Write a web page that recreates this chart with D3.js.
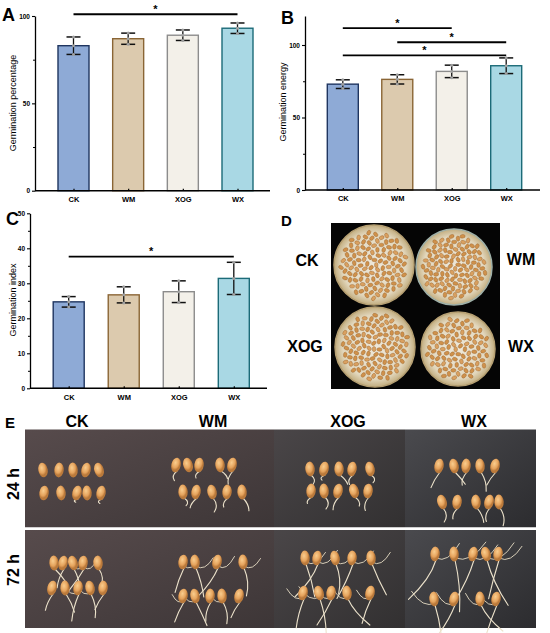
<!DOCTYPE html>
<html><head><meta charset="utf-8">
<script src="https://cdn.jsdelivr.net/npm/d3@7"></script>
<style>body{margin:0;background:#fff}svg{display:block;font-family:Arial,"Liberation Sans",sans-serif}</style>
</head><body><svg id="c" width="550" height="633"></svg>
<script>
// ---------- data ----------
const categories = ["CK", "WM", "XOG", "WX"];
const percentMean = [83, 87, 89, 93];
const percentErr = [5, 3.2, 3, 3];
const energyMean = [73, 76.3, 81.8, 85.7];
const energyErr = [3, 3.2, 4.3, 5.4];
const indexMean = [24.7, 26.7, 27.6, 31.4];
const indexErr = [1.5, 2.3, 3.1, 4.6];
const percentTicks = [0, 50, 100];
const percentMinor = [25, 75];
const energyTicks = [0, 50, 100];
const energyMinor = [25, 75];
const indexTicks = [0, 10, 20, 30, 40, 50];
const indexMinor = [5, 15, 25, 35, 45];
const sigPercent = [["CK", "WX", 101]];
const sigEnergy = [["CK", "XOG", 111.7], ["WM", "WX", 101.9], ["CK", "WX", 92.9]];
const sigIndex = [["CK", "WX", 37.6]];
const barFill = ["#8eaad6", "#dccaae", "#f3f0e9", "#a9d8e4"];
const barStroke = ["#1f3560", "#8a6535", "#8c8c8c", "#1c6b78"];
const timeLabels = ["24 h", "72 h"];
// seedling photo (panel E) seed positions, hand read
const photoSeeds = [
  {c:"CK", t:0, rows:[{y:470,x:[43,59,73,86,99]},{y:493,x:[44,61,77,87,101]}], root:[0,0,0,0,0,0,0,4,0,5]},
  {c:"WM", t:0, rows:[{y:465,x:[176,188,199,220,232]},{y:492,x:[183,196,212,227,242]}], root:[10,0,8,10,14,8,12,14,10,14]},
  {c:"XOG",t:0, rows:[{y:469,x:[310,324,339,352,370]},{y:491,x:[311,324,338,354,368]}], root:[10,6,12,10,8,8,12,14,10,14]},
  {c:"WX", t:0, rows:[{y:466,x:[439,454,466,480,495]},{y:502,x:[442,457,476,489,499]}], root:[18,16,14,20,16,14,12,16,14,18]},
  {c:"CK", t:1, rows:[{y:563,x:[54,63,73,83,98]},{y:588,x:[52,65,78,90,103]}], root:[16,20,22,26,18,18,20,28,24,18]},
  {c:"WM", t:1, rows:[{y:562,x:[183,195,217,243]},{y:596,x:[183,195,210,222,239]}], root:[26,30,34,28,22,26,20,22,18]},
  {c:"XOG",t:1, rows:[{y:558,x:[305,317,335,352,371]},{y:593,x:[303,319,331,347,370]}], root:[34,40,30,38,34,30,36,30,34,26]},
  {c:"WX", t:1, rows:[{y:554,x:[435,454,473,486,498]},{y:599,x:[434,454,480,496]}], root:[48,52,44,50,40,40,36,34,30]}
];
const rootAngles = [-25, 15, -10, 30, -40, 20, -15, 35, -5, 25];

// ---------- helpers ----------
const svg = d3.select("#c");
const FONT = "Arial, 'Liberation Sans', sans-serif";
const defs = svg.append("defs");

function barPanel(o) {
  const g = svg.append("g");
  const y = d3.scaleLinear().domain([0, o.max]).range([o.y0, o.yTop]);
  const x = d3.scalePoint().domain(categories).range(o.xr);
  const bw = 31, cw = 14;
  g.selectAll("rect.bar").data(categories).join("rect")
    .attr("x", d => x(d) - bw / 2).attr("width", bw)
    .attr("y", (d, i) => y(o.means[i])).attr("height", (d, i) => o.y0 - y(o.means[i]))
    .attr("fill", (d, i) => barFill[i]).attr("stroke", (d, i) => barStroke[i]).attr("stroke-width", 1.4);
  const eb = g.selectAll("g.eb").data(categories).join("g");
  eb.append("line").attr("x1", d => x(d)).attr("x2", d => x(d))
    .attr("y1", (d, i) => y(o.means[i] - o.errs[i])).attr("y2", (d, i) => y(o.means[i] + o.errs[i]))
    .attr("stroke", "#111").attr("stroke-width", 1.3);
  [-1, 1].forEach(s => {
    eb.append("line").attr("x1", d => x(d) - cw / 2).attr("x2", d => x(d) + cw / 2)
      .attr("y1", (d, i) => y(o.means[i] + s * o.errs[i])).attr("y2", (d, i) => y(o.means[i] + s * o.errs[i]))
      .attr("stroke", "#111").attr("stroke-width", 1.5);
  });
  [-1, 0, 1].forEach(s => {
    eb.append("circle").attr("cx", d => x(d)).attr("cy", (d, i) => y(o.means[i] + s * o.errs[i]))
      .attr("r", 1.5).attr("fill", "#a0a0a0");
  });
  const ya = g.append("g").attr("transform", `translate(${o.ax},0)`)
    .call(d3.axisLeft(y).tickValues(o.ticks).tickSize(3).tickSizeOuter(0).tickPadding(2));
  ya.attr("font-size", 6.5).attr("font-family", FONT).attr("font-weight", "bold");
  ya.select(".domain").attr("stroke-width", 1.3);
  ya.selectAll(".tick line").attr("stroke-width", 1.1);
  const ym = g.append("g").attr("transform", `translate(${o.ax},0)`)
    .call(d3.axisLeft(y).tickValues(o.minor).tickSize(2).tickFormat(""));
  ym.select(".domain").remove();
  g.append("line").attr("x1", o.ax).attr("x2", o.ar).attr("y1", o.y0).attr("y2", o.y0)
    .attr("stroke", "#000").attr("stroke-width", 1.6);
  const xa = g.append("g").attr("transform", `translate(0,${o.y0})`)
    .call(d3.axisBottom(x).tickSize(-2).tickPadding(6));
  xa.attr("font-size", 7.5).attr("font-family", FONT).attr("font-weight", "bold");
  xa.select(".domain").remove();
  xa.selectAll(".tick line").attr("stroke-width", 1.2);
  o.sig.forEach(s => {
    g.append("line").attr("x1", x(s[0])).attr("x2", x(s[1])).attr("y1", y(s[2])).attr("y2", y(s[2]))
      .attr("stroke", "#000").attr("stroke-width", 1.8);
    g.append("text").attr("x", (x(s[0]) + x(s[1])) / 2).attr("y", y(s[2]) - 1.5)
      .attr("text-anchor", "middle").attr("font-size", 11).attr("font-weight", "bold")
      .attr("font-family", FONT).text("*");
  });
  g.append("text").attr("transform", `translate(${o.tx},${o.ty}) rotate(-90)`)
    .attr("text-anchor", "middle").attr("font-size", 9).attr("font-family", FONT).text(o.title);
  g.append("text").attr("x", o.lx).attr("y", o.ly).attr("font-size", 18).attr("font-weight", "bold")
    .attr("font-family", FONT).text(o.letter);
}

barPanel({max:100, y0:190.7, yTop:16, xr:[73.5,237.5], ax:35, ar:270, means:percentMean, errs:percentErr,
  ticks:percentTicks, minor:percentMinor, sig:sigPercent, title:"Germination percentage", tx:16, ty:103,
  letter:"A", lx:2, ly:21});
barPanel({max:120, y0:190, yTop:16, xr:[342.8,506.2], ax:305, ar:540, means:energyMean, errs:energyErr,
  ticks:energyTicks, minor:energyMinor, sig:sigEnergy, title:"Germination energy", tx:286, ty:102,
  letter:"B", lx:281, ly:24});
barPanel({max:50, y0:388.3, yTop:213.3, xr:[68.7,233.8], ax:30, ar:267, means:indexMean, errs:indexErr,
  ticks:indexTicks, minor:indexMinor, sig:sigIndex, title:"Germination index", tx:16, ty:300,
  letter:"C", lx:6, ly:225});

// ---------- panel D: petri dishes ----------
const big = (sel, x, y, t, anchor, size) => sel.append("text").attr("x", x).attr("y", y)
  .attr("text-anchor", anchor || "middle").attr("font-size", size || 16).attr("font-weight", "bold")
  .attr("font-family", FONT).text(t);
big(svg, 281, 226, "D", "start", 15);
svg.append("rect").attr("x", 331).attr("y", 223).attr("width", 169).attr("height", 166).attr("fill", "#050505");
const dishGrad = defs.append("radialGradient").attr("id", "dish");
dishGrad.append("stop").attr("offset", "0%").attr("stop-color", "#eee8da");
dishGrad.append("stop").attr("offset", "80%").attr("stop-color", "#e2d7bd");
dishGrad.append("stop").attr("offset", "100%").attr("stop-color", "#c2ad7f");
const dishes = [
  {c:"CK", cx:374, cy:265, r:40, lx:307, ly:266},
  {c:"WM", cx:454, cy:267, r:38, lx:521, ly:265},
  {c:"XOG", cx:375, cy:347, r:40, lx:305, ly:352},
  {c:"WX", cx:458, cy:349, r:37, lx:521, ly:352}
];
dishes.forEach((d, k) => {
  svg.append("circle").attr("cx", d.cx).attr("cy", d.cy).attr("r", d.r).attr("fill", "url(#dish)")
    .attr("stroke", k === 1 ? "#9fb0a8" : "#b59f72").attr("stroke-width", 1.5);
  const n = k === 3 ? 90 : 110;
  const sg = svg.append("g");
  d3.range(n).forEach(i => {
    const rr = d.r * 0.84 * Math.sqrt((i + 0.5) / n);
    const th = i * 2.39996 + k;
    const sx = d.cx + rr * Math.cos(th), sy = d.cy + rr * Math.sin(th);
    sg.append("ellipse").attr("cx", sx).attr("cy", sy).attr("rx", 1.8).attr("ry", 2.6)
      .attr("transform", `rotate(${(i * 47) % 180},${sx},${sy})`)
      .attr("fill", i % 3 ? "#cf914b" : "#d9a060").attr("stroke", "#97622c").attr("stroke-width", 0.4);
  });
  big(svg, d.lx, d.ly, d.c, "middle", 16);
});

// ---------- panel E: seedling photos ----------
big(svg, 5, 428, "E", "start", 15);
[["CK", 77], ["WM", 213], ["XOG", 348], ["WX", 474]].forEach(h => big(svg, h[1], 427, h[0], "middle", 16));
timeLabels.forEach((t, i) => {
  svg.append("text").attr("transform", `translate(19,${i ? 570 : 484}) rotate(-90)`)
    .attr("text-anchor", "middle").attr("font-size", 16).attr("font-weight", "bold").attr("font-family", FONT).text(t);
});
const photoCols = [
  {x0:25, x1:274, c1:"#574b4c", c2:"#3d3637"},
  {x0:274, x1:405, c1:"#4a4648", c2:"#323031"},
  {x0:405, x1:536, c1:"#4a4a4e", c2:"#2c2c2f"}
];
const rowsY = [[429.5, 527.5], [530, 628]];
photoCols.forEach((p, i) => {
  const gr = defs.append("linearGradient").attr("id", "pg" + i).attr("x1", 0).attr("y1", 0).attr("x2", 1).attr("y2", 1);
  gr.append("stop").attr("offset", "0%").attr("stop-color", p.c1);
  gr.append("stop").attr("offset", "100%").attr("stop-color", p.c2);
  rowsY.forEach(r => svg.append("rect").attr("x", p.x0).attr("y", r[0]).attr("width", p.x1 - p.x0)
    .attr("height", r[1] - r[0]).attr("fill", `url(#pg${i})`));
});
const seedGrad = defs.append("radialGradient").attr("id", "seed").attr("cx", "40%").attr("cy", "35%");
seedGrad.append("stop").attr("offset", "0%").attr("stop-color", "#f9cd8e");
seedGrad.append("stop").attr("offset", "70%").attr("stop-color", "#e5a35d");
seedGrad.append("stop").attr("offset", "100%").attr("stop-color", "#bb7a3b");
svg.append("rect").attr("x", 25).attr("y", 527.5).attr("width", 511).attr("height", 2.5).attr("fill", "#fff");
const rootG = svg.append("g"), seedG = svg.append("g");
photoSeeds.forEach((grp, gi) => {
  let k = 0;
  grp.rows.forEach((row, ri) => {
    row.x.forEach((sx, j) => {
      const L = grp.root[k] || 0, a = rootAngles[(k + gi) % rootAngles.length];
      const tilt = rootAngles[(k + gi * 3) % rootAngles.length] * 0.4;
      if (L > 0) {
        const rad = (a + 90) * Math.PI / 180;
        const bx = sx + 1, by = row.y + 6;
        const ex = bx + L * Math.cos(rad), ey = by + L * Math.sin(rad);
        rootG.append("path").attr("d", `M${bx},${by} Q${bx + (a > 0 ? -6 : 6)},${(by + ey) / 2} ${ex},${ey}`)
          .attr("fill", "none").attr("stroke", "#ece2cb").attr("stroke-width", 1.1).attr("stroke-linecap", "round");
        if (grp.t === 1 && L > 20) {
          const ex2 = bx - L * 0.6 * Math.sin(rad) * (ri ? 1 : -1), ey2 = by - L * 0.35;
          rootG.append("path").attr("d", `M${bx},${by - 2} Q${(bx + ex2) / 2},${by + 4} ${ex2},${ey2}`)
            .attr("fill", "none").attr("stroke", "#e6dcc4").attr("stroke-width", 0.9);
        }
      }
      seedG.append("ellipse").attr("cx", sx).attr("cy", row.y).attr("rx", 4.7).attr("ry", 7.4)
        .attr("transform", `rotate(${tilt},${sx},${row.y})`).attr("fill", "url(#seed)");
      k++;
    });
  });
});
</script></body></html>
